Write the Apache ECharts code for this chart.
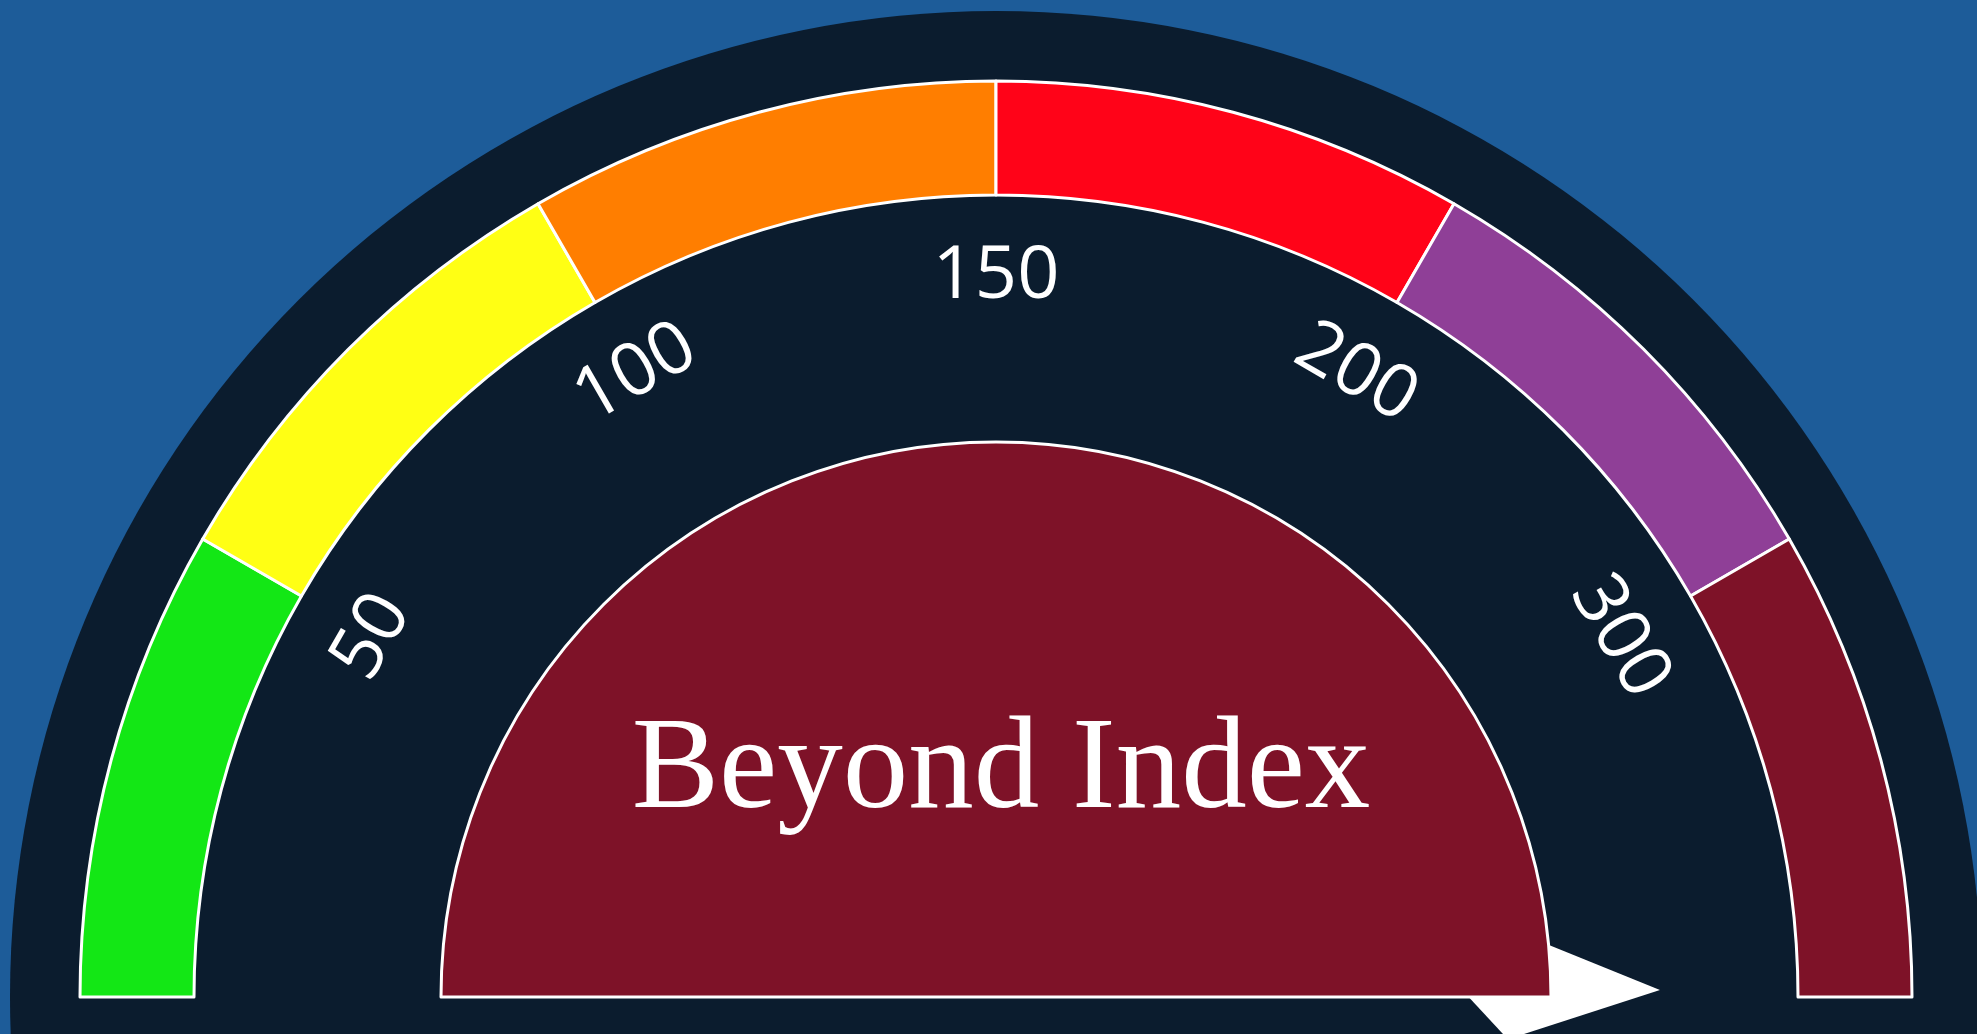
<!DOCTYPE html>
<html>
<head>
<meta charset="utf-8">
<title>Air Quality Gauge</title>
<style>
  html, body { margin: 0; padding: 0; width: 100%; height: 100%; overflow: hidden; background: #1d5c99; }
  #chart { width: 1977px; height: 1034px; }
</style>
<script src="https://cdn.jsdelivr.net/npm/echarts@6/dist/echarts.min.js"></script>
</head>
<body>
<div id="chart"></div>
<script>
// AQI breakpoints; every band takes an equal sixth of the dial
const breakpoints = [0, 50, 100, 150, 200, 300, 500];
const bandColors = ['#13e715', '#ffff14', '#ff7e00', '#ff0318', '#8f3f97', '#7e1228'];
const tickLabels = ['', '50', '100', '150', '200', '300', ''];
const reading = [496];
const statusText = ['Beyond Index'];

// map an AQI value onto the evenly spaced band scale (0..6)
function toBandScale(v) {
  for (let i = 0; i < breakpoints.length - 1; i++) {
    if (v <= breakpoints[i + 1]) {
      return i + (v - breakpoints[i]) / (breakpoints[i + 1] - breakpoints[i]);
    }
  }
  return breakpoints.length - 1;
}

const bandPos = toBandScale(reading[0]);
const statusColor = bandColors[Math.min(bandColors.length - 1, Math.floor(bandPos))];
const CENTER = [996, 997];
const noLabel = { show: false };

// kite-shaped needle head, slightly canted, tip at the top of its box
const needleIcon = 'path://M61.7,0L109.3,152.6L52.05,204.7L0,147.4Z';

const chart = echarts.init(document.getElementById('chart'), null, { renderer: 'canvas' });

chart.setOption({
  animation: false,
  backgroundColor: '#1d5c99',
  series: [
    {
      // dark dial face
      type: 'pie', name: 'face', center: CENTER, radius: [0, 986],
      silent: true, z: 1, label: noLabel, labelLine: noLabel,
      itemStyle: { color: '#0b1c2e' },
      emphasis: { disabled: true },
      data: [{ value: 1 }]
    },
    {
      // coloured AQI bands
      type: 'pie', name: 'bands', center: CENTER, radius: [802, 916],
      startAngle: 180, endAngle: 0, clockwise: true,
      silent: true, z: 2, label: noLabel, labelLine: noLabel,
      itemStyle: { borderColor: '#ffffff', borderWidth: 3 },
      emphasis: { disabled: true },
      data: bandColors.map(function (c) { return { value: 1, itemStyle: { color: c } }; })
    },
    {
      // needle, drawn beneath the status disc
      type: 'gauge', name: 'needle', center: CENTER, radius: 916,
      startAngle: 180, endAngle: 0, min: 0, max: 6, splitNumber: 6, z: 3,
      axisLine: { show: false, lineStyle: { width: 0 } },
      splitLine: { show: false, length: 0, distance: 0 },
      axisTick: { show: false },
      axisLabel: { show: false },
      progress: { show: false },
      pointer: {
        show: true, icon: needleIcon, keepAspect: false,
        width: 109.3, length: 204.7, offsetCenter: [-7.05, -459.3],
        itemStyle: { color: '#ffffff' }
      },
      anchor: { show: false },
      title: { show: false },
      detail: { show: false },
      data: [{ value: bandPos }]
    },
    {
      // status disc
      type: 'pie', name: 'status', center: CENTER, radius: [0, 555],
      startAngle: 180, endAngle: 0,
      silent: true, z: 4, label: noLabel, labelLine: noLabel,
      itemStyle: { color: statusColor, borderColor: '#ffffff', borderWidth: 3 },
      emphasis: { disabled: true },
      data: [{ value: 1 }]
    },
    {
      // tick labels and status text
      type: 'gauge', name: 'scale', center: CENTER, radius: 916,
      startAngle: 180, endAngle: 0, min: 0, max: 6, splitNumber: 6, z: 5,
      axisLine: { show: false, lineStyle: { width: 0 } },
      splitLine: { show: false, length: 0, distance: 0 },
      axisTick: { show: false },
      axisLabel: {
        show: true, distance: 196, rotate: 'tangential',
        color: '#ffffff', fontSize: 74, fontFamily: 'Open Sans', fontWeight: 'normal',
        formatter: function (v) { return tickLabels[Math.round(v)] || ''; }
      },
      progress: { show: false },
      pointer: { show: false },
      anchor: { show: false },
      title: { show: false },
      detail: {
        show: true, offsetCenter: [5, -224], valueAnimation: false,
        fontFamily: 'Liberation Serif', fontSize: 131, fontWeight: 'normal', color: '#ffffff',
        formatter: function () { return statusText[0]; }
      },
      data: [{ value: bandPos }]
    }
  ]
});
</script>
</body>
</html>
